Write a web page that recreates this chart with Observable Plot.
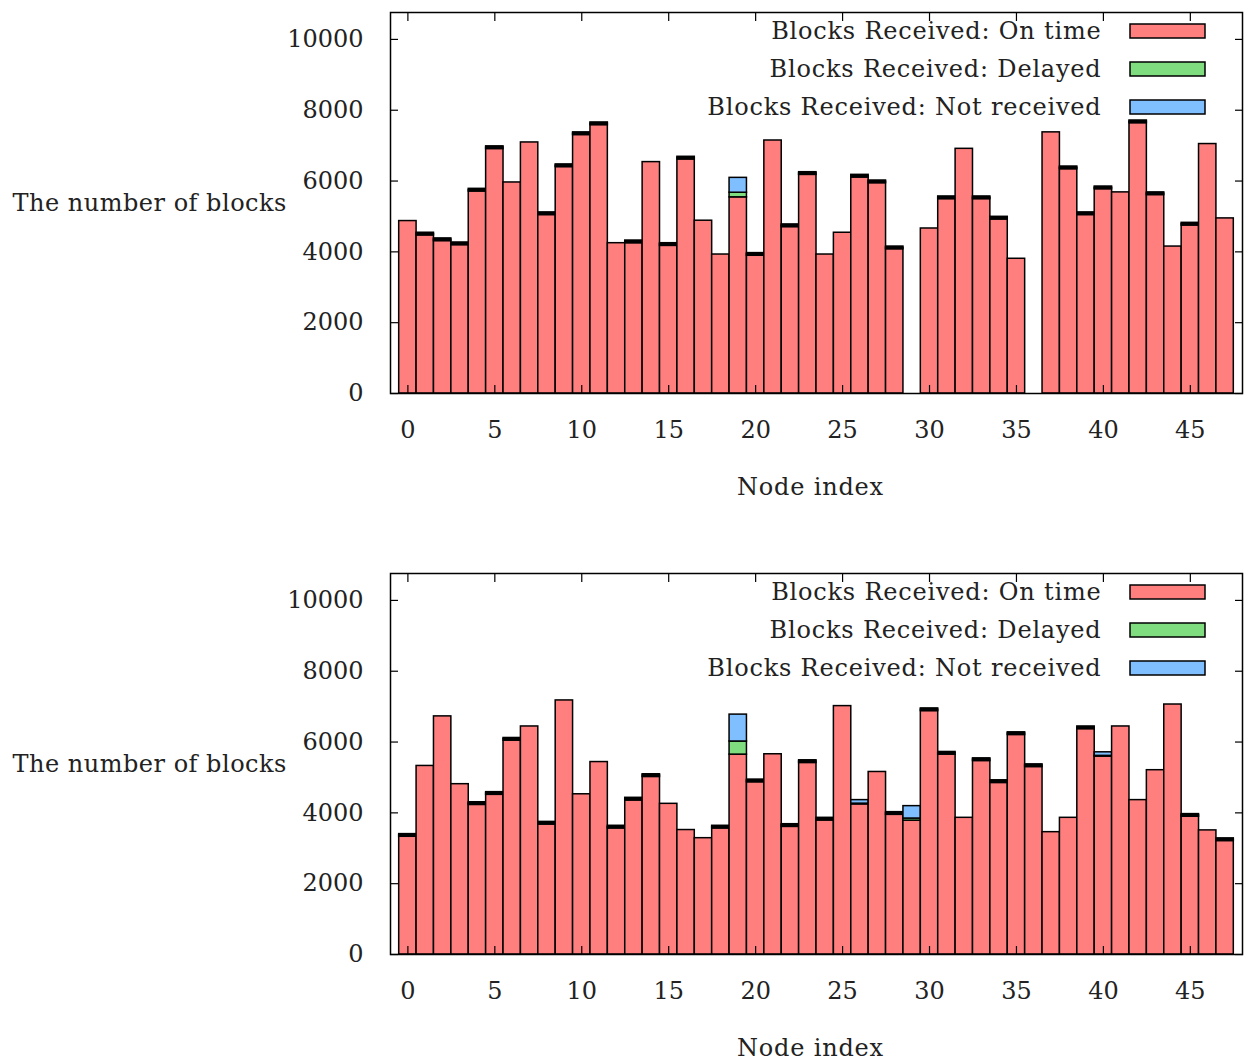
<!DOCTYPE html>
<html><head><meta charset="utf-8">
<script src="https://cdn.jsdelivr.net/npm/d3@7"></script>
<script src="https://cdn.jsdelivr.net/npm/@observablehq/plot@0.6"></script>
<style>body{margin:0;background:#fff;} #c{width:1252px} svg{display:block} .lbl text{letter-spacing:0.8px} .ylbl text{letter-spacing:0.5px}</style>
</head><body><div id="c"></div>
<script>
const nodes = [0,1,2,3,4,5,6,7,8,9,10,11,12,13,14,15,16,17,18,19,20,21,22,23,24,25,26,27,28,29,30,31,32,33,34,35,36,37,38,39,40,41,42,43,44,45,46,47];
const seriesNames = ["Blocks Received: On time", "Blocks Received: Delayed", "Blocks Received: Not received"];
const seriesColors = ["#ff7f7f", "#7fdd7f", "#7fbfff"];
const xTicks = [0,5,10,15,20,25,30,35,40,45];
const yTicks = [0,2000,4000,6000,8000,10000];
const yLabel = "The number of blocks";
const xLabel = "Node index";

// Top panel
const onTimeA = [4870,4465,4305,4190,5705,6905,5960,7090,5040,6395,7300,7580,4245,4245,6535,4170,6610,4880,3925,5540,3890,7145,4700,6175,3925,4540,6100,5940,4075,0,4660,5490,6910,5490,4915,3805,0,7375,6335,5040,5770,5680,7635,5605,4150,4745,7045,4945];
const delayedA = [0,40,40,40,40,40,0,0,40,40,40,40,0,40,0,40,40,0,0,130,40,0,40,40,0,0,40,40,40,0,0,40,0,40,40,0,0,0,40,40,40,0,40,40,0,40,0,0];
const notRecvA = [0,35,35,35,35,35,0,0,35,35,35,35,0,35,0,35,35,0,0,420,35,0,35,35,0,0,35,35,35,0,0,35,0,35,35,0,0,0,35,35,35,0,35,35,0,35,0,0];

// Bottom panel
const onTimeB = [3325,5325,6725,4810,4225,4510,6040,6440,3670,7175,4525,5435,3560,4350,5015,4255,3515,3285,3560,5645,4865,5655,3605,5410,3785,7015,4240,5155,3945,3780,6875,5645,3860,5465,4845,6200,5295,3455,3860,6365,5590,6440,4360,5205,7060,3890,3505,3205];
const delayedB = [40,0,0,0,40,40,40,0,40,0,0,0,40,40,40,0,0,0,40,370,40,0,40,40,40,0,20,0,40,60,40,40,0,40,40,40,40,0,0,40,20,0,0,0,0,40,0,40];
const notRecvB = [35,0,0,0,35,35,35,0,35,0,0,0,35,35,35,0,0,0,35,760,35,0,35,35,35,0,100,0,35,350,35,35,0,35,35,35,35,0,0,35,100,0,0,0,0,35,0,35];

function buildRows(a, b, c) {
  const rows = [];
  nodes.forEach((n, i) => {
    let base = 0;
    [a[i], b[i], c[i]].forEach((v, s) => {
      if (v > 0) rows.push({node: n, series: seriesNames[s], y1: base, y2: base + v});
      base += v;
    });
  });
  return rows;
}

function panel(rows, height, marginBottom) {
  const plot = Plot.plot({
    width: 1252, height,
    marginTop: 12, marginLeft: 390, marginRight: 10, marginBottom,
    style: {fontFamily: "'DejaVu Serif', serif", fontSize: "24px", color: "#000", background: "#fff"},
    x: {domain: [-1, 48], label: null},
    y: {domain: [0, 10760], label: null},
    color: {domain: seriesNames, range: seriesColors},
    marks: [
      Plot.rect(rows, {x1: d => d.node - 0.5, x2: d => d.node + 0.5, y1: "y1", y2: "y2", fill: "series", stroke: "black", strokeWidth: 1.5}),
      Plot.axisY({anchor: "left", ticks: yTicks, tickSize: 0, tickPadding: 27, tickFormat: d => String(d), label: null, fill: "#222"}),
      Plot.axisY({anchor: "left", ticks: yTicks, tickSize: -8, text: null, label: null, strokeWidth: 1.2}),
      Plot.axisY({anchor: "right", ticks: yTicks, tickSize: -8, text: null, label: null, strokeWidth: 1.2}),
      Plot.axisX({anchor: "bottom", ticks: xTicks, tickSize: 0, tickPadding: 27, tickFormat: d => String(d), label: null, fill: "#222"}),
      Plot.axisX({anchor: "bottom", ticks: xTicks, tickSize: -8, text: null, label: null, strokeWidth: 1.2}),
      Plot.axisX({anchor: "top", ticks: xTicks, tickSize: -8, text: null, label: null, strokeWidth: 1.2}),
      Plot.frame({stroke: "black", strokeWidth: 1.5}),
      Plot.text([yLabel], {frameAnchor: "left", textAnchor: "start", dx: -378, text: d => d, fill: "#222", className: "ylbl"}),
      Plot.text([xLabel], {frameAnchor: "bottom", textAnchor: "middle", lineAnchor: "middle", dy: 94, dx: -6, text: d => d, fill: "#222", className: "lbl"}),
      ...seriesNames.map((s, i) => Plot.text([s], {frameAnchor: "top-right", textAnchor: "end", lineAnchor: "middle", dx: -141, dy: 19 + i * 38, text: d => d, fill: "#222", className: "lbl"}))
    ]
  });
  // legend swatches (layout only)
  const svg = d3.select(plot);
  seriesNames.forEach((s, i) => {
    svg.append("rect")
      .attr("x", 1130).attr("y", 12 + 19 + i * 38 - 7)
      .attr("width", 75).attr("height", 14)
      .attr("fill", seriesColors[i]).attr("stroke", "black").attr("stroke-width", 1.5);
  });
  return plot;
}

const c = document.getElementById("c");
c.appendChild(panel(buildRows(onTimeA, delayedA, notRecvA), 561, 168));
c.appendChild(panel(buildRows(onTimeB, delayedB, notRecvB), 503, 110));
</script>
</body></html>
